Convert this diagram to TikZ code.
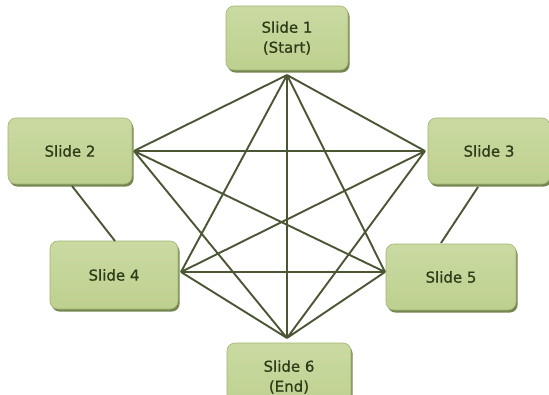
\documentclass[tikz,border=0pt]{standalone}
\usepackage{fontspec}
\setmainfont{DejaVu Sans}
\newfontfamily\slidefont[FakeBold=0.8]{DejaVu Sans}
\usetikzlibrary{shadows}
\definecolor{boxtop}{HTML}{CADAA2}
\definecolor{boxbot}{HTML}{BED08F}
\definecolor{boxedge}{HTML}{9FB571}
\definecolor{boxshadow}{HTML}{66793F}
\definecolor{linkcol}{HTML}{4A5634}
\definecolor{txtcol}{HTML}{2E3B18}
\tikzset{
  slidebox/.style={draw=boxedge, line width=0.6pt, rounded corners=8pt,
    top color=boxtop, bottom color=boxbot, text=txtcol,
    align=center, inner sep=0pt, font=\slidefont\fontsize{15}{20}\selectfont,
    drop shadow={shadow xshift=1.6pt, shadow yshift=-2.6pt, fill=boxshadow, opacity=0.9}},
  link/.style={draw=linkcol, line width=1.9pt}
}
\begin{document}
\begin{tikzpicture}[x=1pt,y=-1pt]
\useasboundingbox (0,0) rectangle (549,394);
\fill[white] (0,0) rectangle (549,394);
\node[slidebox, minimum width=122pt, minimum height=64pt] (s1) at (287,38) {Slide 1\\(Start)};
\node[slidebox, minimum width=124pt, minimum height=66pt] (s2) at (70,151) {Slide 2};
\node[slidebox, minimum width=122pt, minimum height=66pt] (s3) at (489,151) {Slide 3};
\node[slidebox, minimum width=128pt, minimum height=68pt] (s4) at (114,275) {Slide 4};
\node[slidebox, minimum width=130pt, minimum height=66pt] (s5) at (451,277) {Slide 5};
\node[slidebox, minimum width=124pt, minimum height=68pt] (s6) at (289,377) {Slide 6\\(End)};
\coordinate (p1) at (287,75);
\coordinate (p2) at (134,151);
\coordinate (p3) at (425,151);
\coordinate (p4) at (181,272);
\coordinate (p5) at (385,272);
\coordinate (p6) at (287,338);
\coordinate (q2) at (72,186);
\coordinate (q4) at (115,241);
\coordinate (q3) at (478,187);
\coordinate (q5) at (441,243);
\draw[link] (p1) -- (p2) (p1) -- (p3) (p1) -- (p4) (p1) -- (p5) (p1) -- (p6)
  (p2) -- (p3) (p2) -- (p5) (p2) -- (p6)
  (p3) -- (p4) (p3) -- (p6)
  (p4) -- (p5) (p4) -- (p6)
  (p5) -- (p6);
\draw[link] (q2) -- (q4);
\draw[link] (q3) -- (q5);
\end{tikzpicture}
\end{document}
